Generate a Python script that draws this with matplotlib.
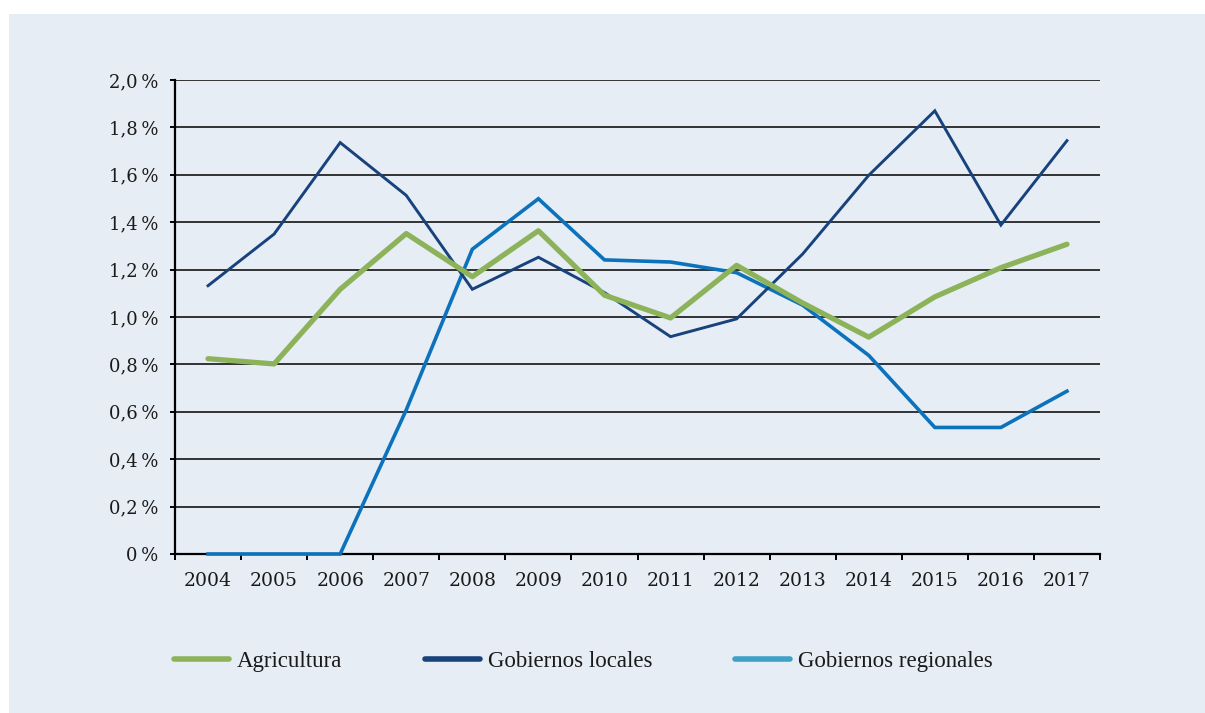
import numpy as np
import matplotlib
matplotlib.use("Agg")
import matplotlib.pyplot as plt
from matplotlib.lines import Line2D
from matplotlib.patches import Rectangle
from matplotlib.ticker import FixedLocator, FuncFormatter

# ---------------------------------------------------------------------------
# Data (% values)
# ---------------------------------------------------------------------------
years = ["2004", "2005", "2006", "2007", "2008", "2009", "2010",
         "2011", "2012", "2013", "2014", "2015", "2016", "2017"]

agricultura = [0.824, 0.802, 1.117, 1.352, 1.170, 1.364, 1.092,
               0.996, 1.218, 1.059, 0.915, 1.085, 1.208, 1.307]
gob_locales = [1.132, 1.350, 1.736, 1.513, 1.117, 1.252, 1.103,
               0.917, 0.992, 1.266, 1.598, 1.870, 1.388, 1.744]
gob_regionales = [0.0, 0.0, 0.0, 0.608, 1.286, 1.499, 1.241,
                  1.232, 1.187, 1.050, 0.838, 0.534, 0.534, 0.687]

y_ticks = [0.0, 0.2, 0.4, 0.6, 0.8, 1.0, 1.2, 1.4, 1.6, 1.8, 2.0]

legend_labels = ["Agricultura", "Gobiernos locales", "Gobiernos regionales"]

# ---------------------------------------------------------------------------
# Style
# ---------------------------------------------------------------------------
BG      = "#e6edf5"
GREEN   = "#8db35a"
NAVY    = "#17427c"
BLUE    = "#0b72bb"
BLUE_LG = "#3fa0c8"
TXT     = "#1a1a1a"

W, H = 1205, 713
fig = plt.figure(figsize=(W / 100, H / 100), dpi=100, facecolor="white")
fig.patches.append(Rectangle((9 / W, 0), 1 - 9 / W, 1 - 14 / H,
                             transform=fig.transFigure, facecolor=BG,
                             edgecolor="none", zorder=-10))

ax = fig.add_axes([175 / W, 1 - 554 / H, (1100 - 175) / W, (554 - 80) / H])
ax.set_facecolor("none")

x = np.arange(len(years))
ax.plot(x, gob_regionales, color=BLUE, lw=2.6, zorder=3,
        solid_joinstyle="miter", clip_on=False)
ax.plot(x, gob_locales, color=NAVY, lw=2.1, zorder=4,
        solid_joinstyle="miter", clip_on=False)
ax.plot(x, agricultura, color=GREEN, lw=3.8, zorder=5,
        solid_capstyle="round", clip_on=False)

ax.set_xlim(-0.5, len(years) - 0.5)
ax.set_ylim(0, 2.0)

# gridlines
for yv in y_ticks[1:]:
    ax.axhline(yv, color="black", lw=1.1, zorder=1)

for s in ["top", "right"]:
    ax.spines[s].set_visible(False)
ax.spines["left"].set_linewidth(1.6)
ax.spines["bottom"].set_linewidth(1.6)

ax.set_yticks(y_ticks)
ax.yaxis.set_major_formatter(FuncFormatter(
    lambda v, p: "0\u2009%" if v == 0 else f"{v:.1f}".replace(".", ",") + "\u2009%"))
ax.tick_params(axis="y", length=3.8, width=1.4, pad=8, labelsize=13,
               labelcolor=TXT, direction="out")

# category boundaries get ticks, centres get labels
ax.xaxis.set_major_locator(FixedLocator(np.arange(-0.5, len(years), 1.0)))
ax.xaxis.set_major_formatter(FuncFormatter(lambda v, p: ""))
ax.xaxis.set_minor_locator(FixedLocator(x))
ax.set_xticklabels(years, minor=True)
ax.tick_params(axis="x", which="major", length=4, width=1.4, direction="out")
ax.tick_params(axis="x", which="minor", length=0, pad=13, labelsize=13.5,
               labelcolor=TXT)

for lab in ax.get_xticklabels(minor=True) + ax.get_yticklabels():
    lab.set_family("DejaVu Serif")

# legend
handles = [Line2D([], [], color=GREEN, lw=4, solid_capstyle="round"),
           Line2D([], [], color=NAVY, lw=4, solid_capstyle="round"),
           Line2D([], [], color=BLUE_LG, lw=4, solid_capstyle="round")]
fig.legend(handles, legend_labels, loc="center left",
           bbox_to_anchor=(174 / W, 1 - 661 / H), ncol=3, frameon=False,
           prop={"family": "Liberation Serif", "size": 16.5},
           handlelength=2.4, handletextpad=0.35, columnspacing=3.6,
           borderpad=0, borderaxespad=0, labelcolor=TXT)

fig.savefig("out.png", dpi=100, facecolor="white")
